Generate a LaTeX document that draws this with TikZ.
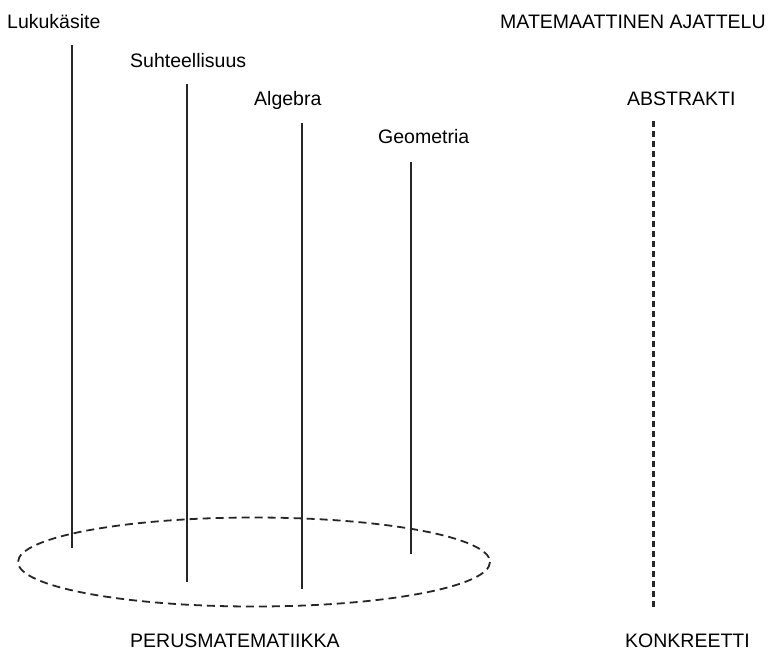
\documentclass[tikz,border=0pt]{standalone}
\usepackage{fontspec}
\setmainfont{Liberation Sans}

\tikzset{
  lbl/.style={anchor=base west,inner sep=0pt,font=\fontsize{19.5}{22}\selectfont},
  stem/.style={line width=2pt,black!85},
  ring/.style={line width=1.8pt,dash pattern=on 8pt off 5pt,black!85},
  scale line/.style={line width=3pt,dash pattern=on 6pt off 4pt,black!85}
}

\begin{document}
\begin{tikzpicture}[x=1pt,y=-1pt]
    \useasboundingbox (0,0) rectangle (777,651);

    % Topics
    \node[lbl] (luku) at (7,28) {Lukukäsite};
    \node[lbl] (suht) at (130,67) {Suhteellisuus};
    \node[lbl] (alg) at (254,105) {Algebra};
    \node[lbl] (geom) at (378,143) {Geometria};

    % Stems
    \coordinate (luku top) at (72,45);
    \coordinate (luku bot) at (72,548);
    \coordinate (suht top) at (187,84);
    \coordinate (suht bot) at (187,582);
    \coordinate (alg top) at (302,123);
    \coordinate (alg bot) at (302,589);
    \coordinate (geom top) at (411,162);
    \coordinate (geom bot) at (411,554);
    \draw[stem] (luku top) -- (luku bot);
    \draw[stem] (suht top) -- (suht bot);
    \draw[stem] (alg top) -- (alg bot);
    \draw[stem] (geom top) -- (geom bot);

    % Base
    \draw[ring] (254,562) ellipse (236 and 44.5);
    \node[lbl] (perus) at (130,647) {PERUSMATEMATIIKKA};

    % Scale on the right
    \node[lbl] (ajattelu) at (500,28) {MATEMAATTINEN AJATTELU};
    \node[lbl] (abs) at (627,105) {ABSTRAKTI};
    \node[lbl] (konk) at (625,647) {KONKREETTI};
    \coordinate (scale top) at (653,121);
    \coordinate (scale bot) at (653,607);
    \draw[scale line] (scale top) -- (scale bot);
\end{tikzpicture}
\end{document}
